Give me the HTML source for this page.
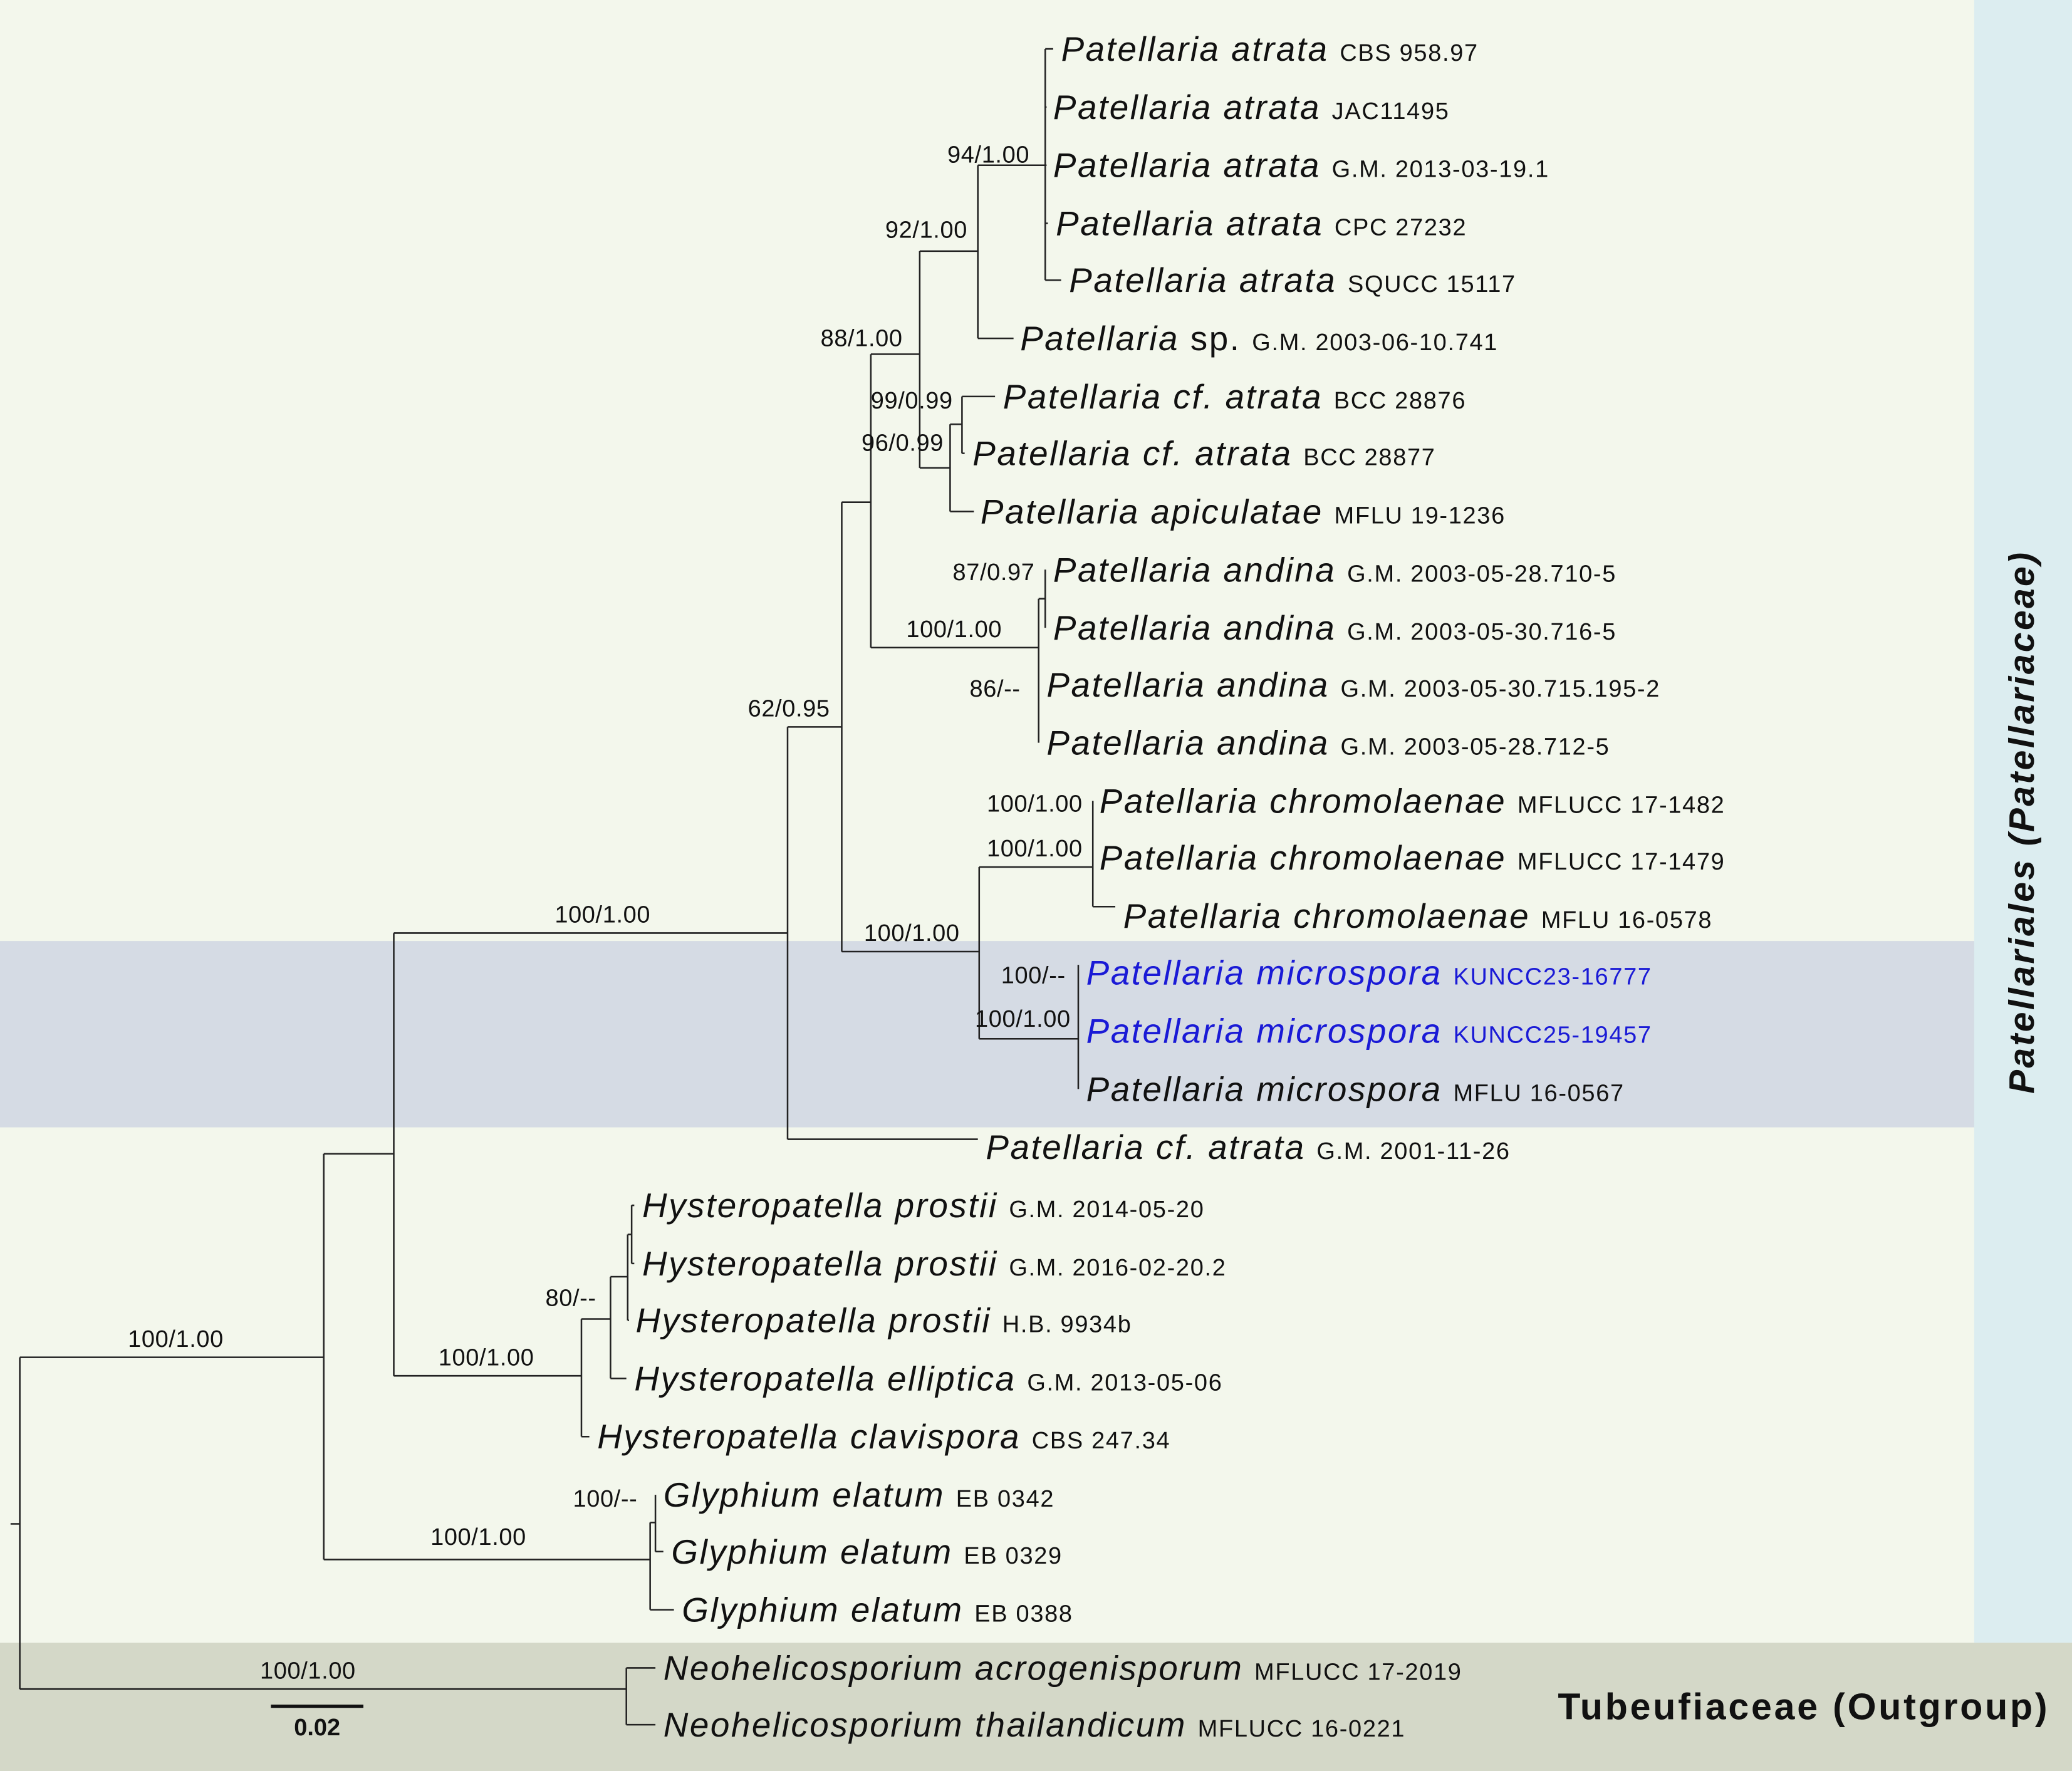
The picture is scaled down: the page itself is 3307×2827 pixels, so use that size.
<!DOCTYPE html>
<html><head><meta charset="utf-8"><style>
html,body{margin:0;padding:0;background:#f3f7ec}
svg{display:block}
text{font-family:"Liberation Sans",sans-serif;fill:#111}
.sp{font-size:26px;font-style:italic;letter-spacing:1.2px}
.st{font-size:18px;font-style:normal;letter-spacing:0.8px}
.n{font-size:18px;letter-spacing:0.3px}
.b{fill:#1a1ad6}
</style></head><body>
<svg width="3307" height="2827" viewBox="0 0 1568 1340" preserveAspectRatio="none" xmlns="http://www.w3.org/2000/svg">
<rect x="0" y="0" width="1568" height="1340" fill="#f3f7ec"/>
<rect x="1494" y="0" width="74" height="1243" fill="#dcedf0"/>
<rect x="0" y="1243" width="1568" height="97" fill="#d4d8c8"/>
<rect x="0" y="712" width="1494" height="141" fill="#d5dbe4"/>
<g stroke="#222" stroke-width="1.2" fill="none">
<path d="M791 37V212 M791 37H797 M791 81H792 M791 125H792 M791 169H793 M791 212H803"/>
<path d="M740 125V256 M740 125H791 M740 256H767"/>
<path d="M728 300V343 M728 300H753 M728 343H730"/>
<path d="M719 321V387 M719 321H728 M719 387H737"/>
<path d="M696 190V354 M696 190H740 M696 354H719"/>
<path d="M791 431V475"/>
<path d="M786 453V562 M786 453H791"/>
<path d="M659 268V490 M659 268H696 M659 490H786"/>
<path d="M827 606V686 M827 686H844"/>
<path d="M816 730V824"/>
<path d="M741 656V786 M741 656H827 M741 786H816"/>
<path d="M637 380V720 M637 380H659 M637 720H741"/>
<path d="M596 550V862 M596 550H637 M596 862H740"/>
<path d="M478 912V956 M478 912H480 M478 956H480"/>
<path d="M475 934V999 M475 934H478 M475 999H476"/>
<path d="M462 966V1043 M462 966H475 M462 1043H474"/>
<path d="M440 998V1087 M440 998H462 M440 1087H446"/>
<path d="M298 706V1041 M298 706H596 M298 1041H440"/>
<path d="M496 1131V1174 M496 1174H502"/>
<path d="M492 1152V1218 M492 1152H496 M492 1218H510"/>
<path d="M245 873V1180 M245 873H298 M245 1180H492"/>
<path d="M474 1262V1305 M474 1262H496 M474 1305H496"/>
<path d="M15 1027V1278 M15 1027H245 M15 1278H474 M8 1153H15"/>
</g>
<line x1="205" y1="1291" x2="275" y2="1291" stroke="#111" stroke-width="2.5"/>
<text x="240" y="1313" text-anchor="middle" style="font-size:18px;font-weight:bold">0.02</text>

<g class="sp">
<text x="803" y="46">Patellaria atrata <tspan class="st">CBS 958.97</tspan></text>
<text x="797" y="90">Patellaria atrata <tspan class="st">JAC11495</tspan></text>
<text x="797" y="134">Patellaria atrata <tspan class="st">G.M. 2013-03-19.1</tspan></text>
<text x="799" y="178">Patellaria atrata <tspan class="st">CPC 27232</tspan></text>
<text x="809" y="221">Patellaria atrata <tspan class="st">SQUCC 15117</tspan></text>
<text x="772" y="265">Patellaria <tspan style="font-style:normal">sp.</tspan> <tspan class="st">G.M. 2003-06-10.741</tspan></text>
<text x="759" y="309">Patellaria cf. atrata <tspan class="st">BCC 28876</tspan></text>
<text x="736" y="352">Patellaria cf. atrata <tspan class="st">BCC 28877</tspan></text>
<text x="742" y="396">Patellaria apiculatae <tspan class="st">MFLU 19-1236</tspan></text>
<text x="797" y="440">Patellaria andina <tspan class="st">G.M. 2003-05-28.710-5</tspan></text>
<text x="797" y="484">Patellaria andina <tspan class="st">G.M. 2003-05-30.716-5</tspan></text>
<text x="792" y="527">Patellaria andina <tspan class="st">G.M. 2003-05-30.715.195-2</tspan></text>
<text x="792" y="571">Patellaria andina <tspan class="st">G.M. 2003-05-28.712-5</tspan></text>
<text x="832" y="615">Patellaria chromolaenae <tspan class="st">MFLUCC 17-1482</tspan></text>
<text x="832" y="658">Patellaria chromolaenae <tspan class="st">MFLUCC 17-1479</tspan></text>
<text x="850" y="702">Patellaria chromolaenae <tspan class="st">MFLU 16-0578</tspan></text>
<text x="822" y="745" class="b">Patellaria microspora <tspan class="st b">KUNCC23-16777</tspan></text>
<text x="822" y="789" class="b">Patellaria microspora <tspan class="st b">KUNCC25-19457</tspan></text>
<text x="822" y="833">Patellaria microspora <tspan class="st">MFLU 16-0567</tspan></text>
<text x="746" y="877">Patellaria cf. atrata <tspan class="st">G.M. 2001-11-26</tspan></text>
<text x="486" y="921">Hysteropatella prostii <tspan class="st">G.M. 2014-05-20</tspan></text>
<text x="486" y="965">Hysteropatella prostii <tspan class="st">G.M. 2016-02-20.2</tspan></text>
<text x="481" y="1008">Hysteropatella prostii <tspan class="st">H.B. 9934b</tspan></text>
<text x="480" y="1052">Hysteropatella elliptica <tspan class="st">G.M. 2013-05-06</tspan></text>
<text x="452" y="1096">Hysteropatella clavispora <tspan class="st">CBS 247.34</tspan></text>
<text x="502" y="1140">Glyphium elatum <tspan class="st">EB 0342</tspan></text>
<text x="508" y="1183">Glyphium elatum <tspan class="st">EB 0329</tspan></text>
<text x="516" y="1227">Glyphium elatum <tspan class="st">EB 0388</tspan></text>
<text x="502" y="1271">Neohelicosporium acrogenisporum <tspan class="st">MFLUCC 17-2019</tspan></text>
<text x="502" y="1314">Neohelicosporium thailandicum <tspan class="st">MFLUCC 16-0221</tspan></text>
</g>

<g>
<text x="748" y="123" text-anchor="middle" class="n">94/1.00</text>
<text x="701" y="180" text-anchor="middle" class="n">92/1.00</text>
<text x="652" y="262" text-anchor="middle" class="n">88/1.00</text>
<text x="690" y="309" text-anchor="middle" class="n">99/0.99</text>
<text x="683" y="341" text-anchor="middle" class="n">96/0.99</text>
<text x="752" y="439" text-anchor="middle" class="n">87/0.97</text>
<text x="722" y="482" text-anchor="middle" class="n">100/1.00</text>
<text x="753" y="527" text-anchor="middle" class="n">86/--</text>
<text x="597" y="542" text-anchor="middle" class="n">62/0.95</text>
<text x="783" y="614" text-anchor="middle" class="n">100/1.00</text>
<text x="783" y="648" text-anchor="middle" class="n">100/1.00</text>
<text x="690" y="712" text-anchor="middle" class="n">100/1.00</text>
<text x="456" y="698" text-anchor="middle" class="n">100/1.00</text>
<text x="782" y="744" text-anchor="middle" class="n">100/--</text>
<text x="774" y="777" text-anchor="middle" class="n">100/1.00</text>
<text x="432" y="988" text-anchor="middle" class="n">80/--</text>
<text x="368" y="1033" text-anchor="middle" class="n">100/1.00</text>
<text x="133" y="1019" text-anchor="middle" class="n">100/1.00</text>
<text x="458" y="1140" text-anchor="middle" class="n">100/--</text>
<text x="362" y="1169" text-anchor="middle" class="n">100/1.00</text>
<text x="233" y="1270" text-anchor="middle" class="n">100/1.00</text>
</g>

<text x="1530" y="622" text-anchor="middle" transform="rotate(-90 1530 622)" dy="9" style="font-size:27px;font-weight:bold;font-style:italic;letter-spacing:1.6px">Patellariales (Patellariaceae)</text>
<text x="1365" y="1301" text-anchor="middle" style="font-size:28px;font-weight:bold;letter-spacing:1.8px">Tubeufiaceae (Outgroup)</text>
</svg>
</body></html>
